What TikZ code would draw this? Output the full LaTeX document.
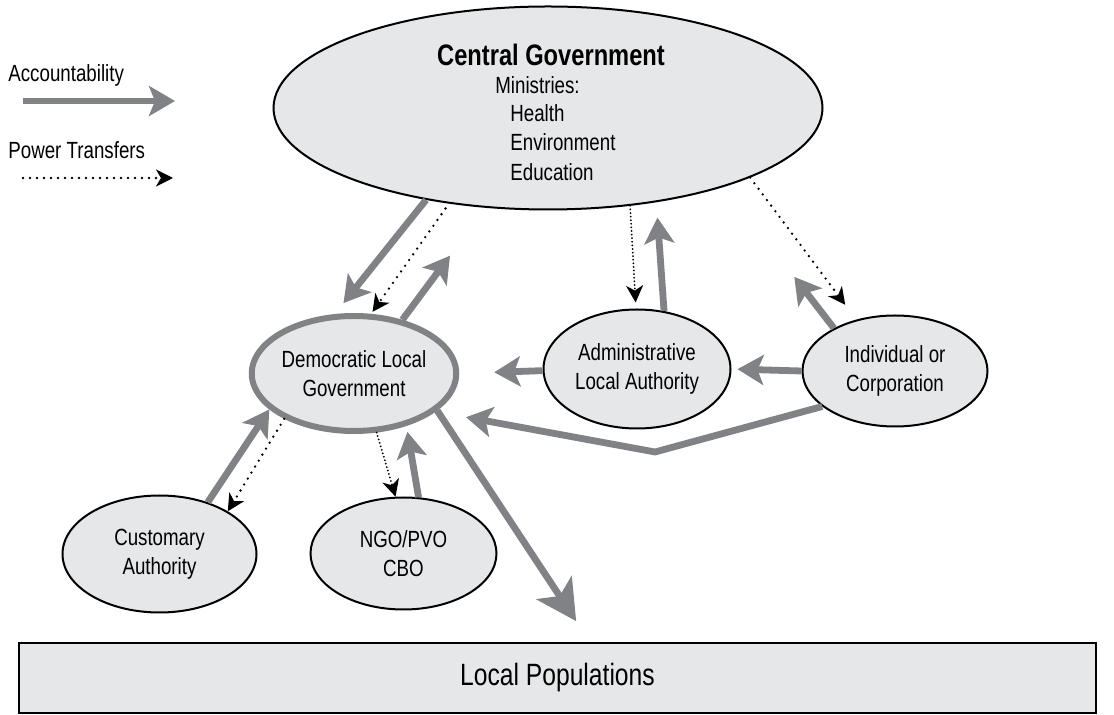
\documentclass[tikz,border=0pt]{standalone}
\usepackage{fontspec}
\setmainfont{Liberation Sans}[FakeStretch=0.8]
\usetikzlibrary{arrows.meta}
\usetikzlibrary{shapes.geometric}

\definecolor{ovalfill}{HTML}{E6E7E8}
\definecolor{accgray}{HTML}{808285}

\tikzset{
  oval/.style={ellipse, draw=black, line width=1pt, fill=ovalfill, inner sep=0pt, align=center, font=\fontsize{11.7}{14.3}\selectfont},
  txt/.style={inner sep=0pt, font=\fontsize{11.7}{14.3}\selectfont},
  acc/.style={draw=accgray, line width=3.4pt, -{Stealth[length=13pt, width=15pt, inset=3pt]}},
  pow/.style={draw=black, line width=1.3pt, line cap=round, dash pattern=on 0pt off 3.5pt, -{Stealth[length=8.5pt, width=8.5pt, inset=2.5pt]}},
  powdense/.style={pow, line width=1pt, dash pattern=on 0pt off 1.8pt}
}

\begin{document}
\begin{tikzpicture}[x=0.5pt, y=-0.5pt]
\useasboundingbox (0,0) rectangle (1114,715);

% legend
\node[txt, anchor=west] (acc-txt) at (8,75) {Accountability};
\coordinate (acc-a) at (23,101);
\coordinate (acc-b) at (175,101);
\draw[acc] (acc-a) -- (acc-b);
\node[txt, anchor=west] (pow-txt) at (8,150) {Power Transfers};
\coordinate (pow-a) at (23,178);
\coordinate (pow-b) at (173,178);
\draw[pow] (pow-a) -- (pow-b);

% actors
\node[oval, minimum width=274.5pt, minimum height=101.5pt] (cg) at (548,108) {};
\node[txt, font=\fontsize{14.8}{17}\selectfont\bfseries] (cg-title) at (551,55) {Central Government};
\node[txt, anchor=west] (cg-min) at (495,85) {Ministries:};
\node[txt, anchor=west] (cg-health) at (510,113) {Health};
\node[txt, anchor=west] (cg-env) at (510,142) {Environment};
\node[txt, anchor=west] (cg-edu) at (510,172) {Education};

\node[oval, draw=accgray, line width=3pt, minimum width=93pt, minimum height=57.5pt] (dlg) at (354,373.5) {Democratic Local\\Government};
\node[oval, minimum width=93.5pt, minimum height=59.5pt] (ala) at (637,369) {Administrative\\Local Authority};
\node[oval, minimum width=92.5pt, minimum height=55.5pt] (ic) at (895,371) {Individual or\\Corporation};
\node[oval, minimum width=97pt, minimum height=58.5pt] (ca) at (159.5,554) {Customary\\Authority};
\node[oval, minimum width=93pt, minimum height=56pt] (ngo) at (403.5,553.5) {NGO/PVO\\CBO};
\node[draw=black, line width=1pt, fill=ovalfill, minimum width=538.5pt, minimum height=35pt, inner sep=0pt, font=\fontsize{15.4}{18}\selectfont] (lp) at (557.5,678) {Local Populations};

% central government links
\draw[acc, shorten >=7pt] (cg.217.4) -- (dlg.108.6);
\draw[pow, shorten <=3pt, shorten >=1.2pt] (cg.224.6) -- (dlg.74.5);
\draw[acc, shorten >=29.8pt] (dlg.48) -- (cg.238.9);
\draw[powdense, shorten >=3pt] (cg.310) -- (ala.91.9);
\draw[acc, shorten >=7.7pt] (ala.65.9) -- (cg.319.5);
\draw[pow, shorten >=9.2pt] (cg.341.6) -- (ic.127.5);
\draw[acc, shorten >=57pt] (ic.145.3) -- (cg.336.5);

% middle row
\draw[acc, shorten >=17.5pt] (ala.181.8) -- (dlg.0.9);
\draw[acc, shorten >=3pt] (ic.west) -- (ala.east);
\coordinate (bend) at (655,452);
\draw[acc, shorten >=15.4pt] (ic.206.6) -- (bend) -- (dlg.335.3);

% lower row
\draw[acc] (ca.47) -- (dlg.203.6);
\draw[pow] (dlg.213.6) -- (ca.32.7);
\draw[powdense] (dlg.291.1) -- (ngo.98.7);
\draw[acc, shorten >=3pt] (ngo.75.4) -- (dlg.315.8);
\draw[acc, shorten >=12.5pt, -{Stealth[length=20pt, width=21pt, inset=5pt]}] (dlg.336.3) -- (lp.48.3);

\end{tikzpicture}
\end{document}
